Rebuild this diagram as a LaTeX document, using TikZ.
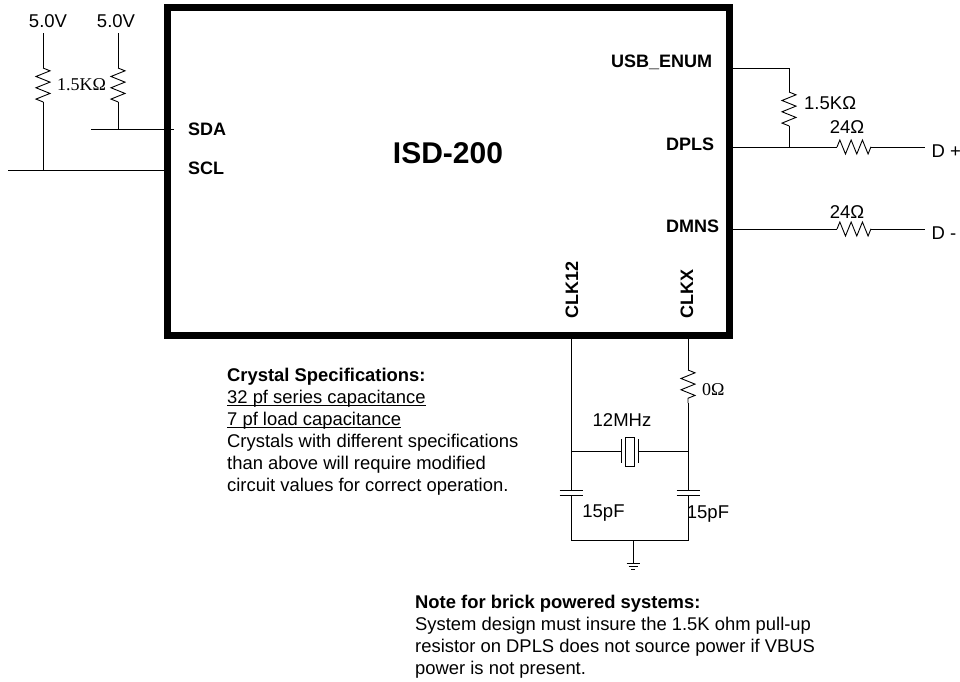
\documentclass[tikz,border=0pt]{standalone}
\usepackage{fontspec}
\setmainfont{Liberation Sans}
\newfontfamily\serifohm{Liberation Serif}
\newcommand{\ulined}[1]{\leavevmode\setbox0\hbox{#1}\rlap{\rule[-2.2pt]{\wd0}{0.9pt}}\box0}
\usetikzlibrary{decorations.pathmorphing}
\tikzset{
    pin/.style={font=\fontsize{18}{20}\selectfont\bfseries, inner sep=0pt},
    lbl/.style={font=\fontsize{18.5}{20}\selectfont, inner sep=0pt},
    serlbl/.style={font=\fontsize{18}{20}\selectfont\serifohm, inner sep=0pt},
    note/.style={font=\fontsize{18.4}{22}\selectfont, inner sep=0pt, align=left, anchor=north west},
    wire/.style={line width=0.9pt},
    res/.style={wire, decorate, decoration={zigzag, segment length=11.3pt, amplitude=7pt}}
}
\begin{document}
\begin{tikzpicture}[x=1pt, y=-1pt]
    \useasboundingbox (0,0) rectangle (960,681);

    % the chip
    \node[draw, line width=7pt, minimum width=561.5pt, minimum height=327.5pt, inner sep=0pt] (chip) at (448.25,171.25) {};
    \node[inner sep=0pt, font=\fontsize{30}{32}\selectfont\bfseries] (chipname) at (448,153.5) {ISD-200};

    % the pin labels
    \node[pin, anchor=west] (sda) at (188,129) {SDA};
    \node[pin, anchor=west] (scl) at (188,168) {SCL};
    \node[pin, anchor=west] (usb) at (611,62) {USB\_ENUM};
    \node[pin, anchor=west] (dpls) at (666,144) {DPLS};
    \node[pin, anchor=west] (dmns) at (666,226) {DMNS};
    \node[pin, rotate=90, anchor=west] (clk12) at (572,319) {CLK12};
    \node[pin, rotate=90, anchor=west] (clkx) at (687,319) {CLKX};

    % the two pull-ups on the left
    \node[lbl] (vcca) at (48,21) {5.0V};
    \node[lbl] (vccb) at (116,21) {5.0V};
    \node[serlbl] (rleft) at (81.5,85) {1.5KΩ};
    \coordinate (vat) at (43,33);
    \coordinate (vbt) at (118,33);
    \coordinate (ra1) at (43,68);
    \coordinate (ra2) at (43,102);
    \coordinate (rb1) at (118,68);
    \coordinate (rb2) at (118,102);
    \coordinate (sclin) at (8,170);
    \coordinate (sclt) at (43,170);
    \coordinate (sclc) at (165,170);
    \coordinate (sdain) at (91,129);
    \coordinate (sdat) at (118,129);
    \coordinate (sdac) at (174,129);
    \draw[wire] (vat) -- (ra1);
    \draw[res] (ra1) -- (ra2);
    \draw[wire] (ra2) -- (sclt);
    \draw[wire] (vbt) -- (rb1);
    \draw[res] (rb1) -- (rb2);
    \draw[wire] (rb2) -- (sdat);
    \draw[wire] (sdain) -- (sdac);
    \draw[wire] (sclin) -- (sclc);

    % DPLS, DMNS and the pull-up on the right
    \coordinate (usbc) at (733,68);
    \coordinate (usbt) at (789,68);
    \coordinate (rc1) at (789,92);
    \coordinate (rc2) at (789,126);
    \coordinate (dplst) at (789,147);
    \coordinate (dplsc) at (733,147);
    \coordinate (rd1) at (837,147);
    \coordinate (rd2) at (871,147);
    \coordinate (dmnsc) at (733,229);
    \coordinate (re1) at (837,229);
    \coordinate (re2) at (871,229);
    \node[lbl, anchor=west] (rpull) at (804,103) {1.5KΩ};
    \node[lbl] (rdp) at (847,127) {24Ω};
    \node[lbl] (rdm) at (847,212) {24Ω};
    \node[lbl, anchor=west] (dplus) at (931.5,151) {D +};
    \node[lbl, anchor=west] (dminus) at (931.5,233) {D -};
    \coordinate (dpe) at (925,147);
    \coordinate (dme) at (925,229);
    \draw[wire] (usbc) -- (usbt) -- (rc1);
    \draw[res] (rc1) -- (rc2);
    \draw[wire] (rc2) -- (dplst);
    \draw[wire] (dplsc) -- (rd1);
    \draw[res] (rd1) -- (rd2);
    \draw[wire] (rd2) -- (dpe);
    \draw[wire] (dmnsc) -- (re1);
    \draw[res] (re1) -- (re2);
    \draw[wire] (re2) -- (dme);

    % the crystal and its capacitors
    \coordinate (cka) at (571,338);
    \coordinate (ckb) at (688,338);
    \coordinate (rf1) at (688,370);
    \coordinate (rf2) at (688,403);
    \coordinate (xa) at (571,451);
    \coordinate (xb) at (688,451);
    \coordinate (xl) at (621,451);
    \coordinate (xr) at (638,451);
    \coordinate (ca1) at (571,490);
    \coordinate (ca2) at (571,495);
    \coordinate (cb1) at (688,490);
    \coordinate (cb2) at (688,495);
    \coordinate (ba) at (571,540);
    \coordinate (bb) at (688,540);
    \coordinate (gt) at (633,540);
    \coordinate (gb) at (633,563);
    \node[serlbl, anchor=west] (rzero) at (702,390) {0Ω};
    \node[lbl] (xlabel) at (622,420) {12MHz};
    \node[draw, line width=0.7pt, minimum width=9pt, minimum height=29pt, inner sep=0pt] (xtal) at (629.5,451.5) {};
    \node[lbl] (capa) at (603.5,513) {15pF};
    \node[lbl] (capb) at (708,514) {15pF};
    \draw[wire] (cka) -- (ca1);
    \draw[wire] (ckb) -- (rf1);
    \draw[res] (rf1) -- (rf2);
    \draw[wire] (rf2) -- (cb1);
    \draw[wire] (xa) -- (xl);
    \draw[wire] (xr) -- (xb);
    \draw[wire] (xl) +(0,-12) -- +(0,12);
    \draw[wire] (xr) +(0,-12) -- +(0,12);
    \draw[wire] (ca1) +(-11.5,0) -- +(11.5,0);
    \draw[wire] (ca2) +(-11.5,0) -- +(11.5,0);
    \draw[wire] (cb1) +(-11.5,0) -- +(11.5,0);
    \draw[wire] (cb2) +(-11.5,0) -- +(11.5,0);
    \draw[wire] (ca2) -- (ba) -- (bb) -- (cb2);
    % the ground
    \draw[wire] (gt) -- (gb);
    \foreach \i/\w in {0/6.5, 3/4.5, 6/2}
        \draw[line width=0.7pt] (gb) +(-\w,\i) -- +(\w,\i);

    % the two notes
    \node[note] (crystal) at (227,368) {\textbf{Crystal Specifications:}\\
        \ulined{32 pf series capacitance}\\
        \ulined{7 pf load capacitance}\\
        Crystals with different specifications\\
        than above will require modified\\
        circuit values for correct operation.};
    \node[note] (brick) at (415,595) {\textbf{Note for brick powered systems:}\\
        System design must insure the 1.5K ohm pull-up\\
        resistor on DPLS does not source power if VBUS\\
        power is not present.};
\end{tikzpicture}
\end{document}
